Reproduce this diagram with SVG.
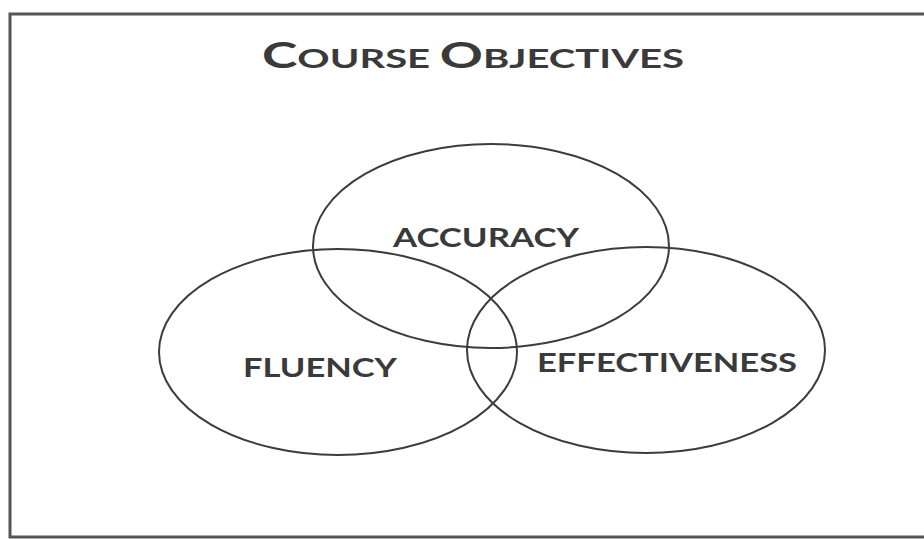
<svg xmlns="http://www.w3.org/2000/svg" width="924" height="539" viewBox="0 0 924 539">
<style>
.frame{fill:none;stroke:#555;stroke-width:3}
.ell{fill:none;stroke:#3c3c3c;stroke-width:2}
.lbl{font-family:Lato,"Open Sans","Liberation Sans",sans-serif;font-weight:bold;fill:#3a3a3a;text-anchor:middle}
.title{font-family:Lato,"Open Sans","Liberation Sans",sans-serif;font-weight:bold;fill:#3a3a3a}
</style>
<rect width="924" height="539" fill="#ffffff"/>
<g id="frame">
<path class="frame" d="M924,14 L10,14 L10,537 L924,537"/>
</g>
<g id="title">
<text class="title" x="262" y="68" textLength="422" lengthAdjust="spacingAndGlyphs"><tspan font-size="36">C</tspan><tspan font-size="27">OURSE </tspan><tspan font-size="36">O</tspan><tspan font-size="27">BJECTIVES</tspan></text>
</g>
<g id="accuracy">
<ellipse class="ell" cx="491" cy="246" rx="178" ry="102"/>
<text class="lbl" x="486" y="247" font-size="27" textLength="186" lengthAdjust="spacingAndGlyphs">ACCURACY</text>
</g>
<g id="fluency">
<ellipse class="ell" cx="338" cy="352" rx="179" ry="103"/>
<text class="lbl" x="320" y="377" font-size="27" textLength="154" lengthAdjust="spacingAndGlyphs">FLUENCY</text>
</g>
<g id="effectiveness">
<ellipse class="ell" cx="646" cy="350" rx="179" ry="103"/>
<text class="lbl" x="667" y="372" font-size="27" textLength="260" lengthAdjust="spacingAndGlyphs">EFFECTIVENESS</text>
</g>
<g id="connectors"/>
</svg>
